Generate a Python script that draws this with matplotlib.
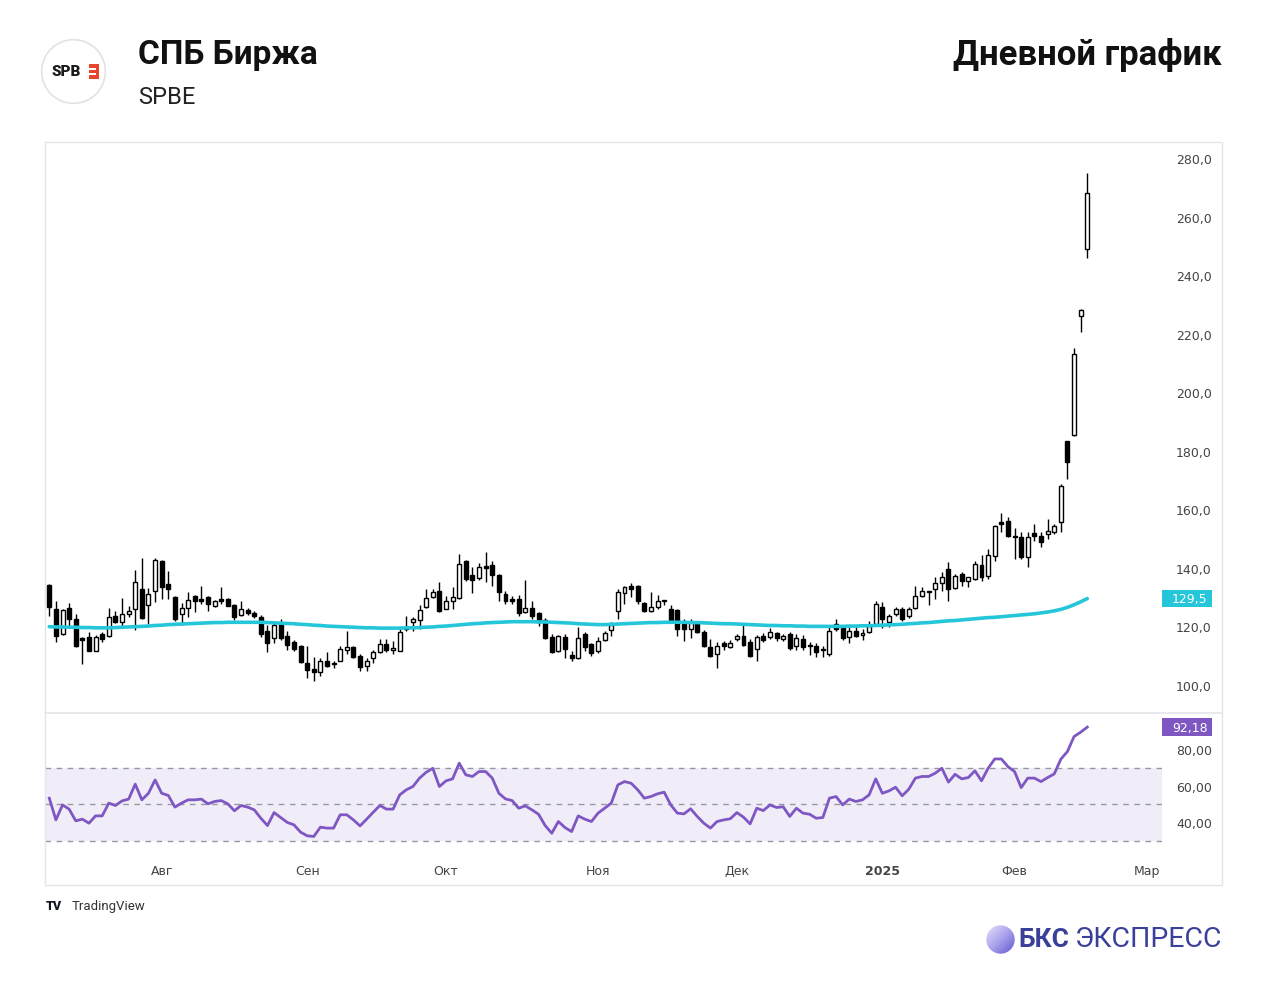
import numpy as np
import matplotlib
matplotlib.use("Agg")
import matplotlib.pyplot as plt
from matplotlib.patches import Rectangle, Circle
from matplotlib.lines import Line2D
import matplotlib.transforms as mtransforms

# Daily candles (bar index 0 = first visible day)
opens = [134.0, 126.0, 117.4, 126.3, 122.5, 116.0, 116.3, 111.7, 117.5, 116.6,
         123.5, 121.4, 124.2, 125.8, 132.8, 127.3, 132.2, 142.5, 134.5, 130.0,
         124.2, 126.3, 130.3, 129.4, 130.0, 127.1, 129.4, 129.4, 127.3, 123.9,
         125.6, 124.6, 123.1, 118.5, 116.1, 120.8, 116.8, 114.6, 113.2, 107.5,
         105.5, 104.5, 108.3, 107.0, 108.3, 112.0, 112.9, 110.0, 106.6, 109.1,
         111.2, 114.0, 112.0, 111.7, 119.7, 121.5, 122.2, 126.5, 130.0, 132.2,
         126.0, 128.8, 129.6, 142.5, 137.6, 136.5, 140.7, 141.0, 137.6, 131.1,
         129.2, 129.4, 125.0, 126.2, 124.6, 122.3, 116.3, 111.5, 116.3, 110.2,
         109.1, 117.4, 114.0, 111.7, 115.4, 118.9, 125.4, 131.4, 133.7, 133.9,
         128.0, 125.4, 126.5, 128.6, 125.8, 125.6, 120.8, 119.1, 121.4, 118.0,
         112.9, 110.6, 114.3, 112.9, 115.7, 116.8, 114.8, 112.3, 116.8, 116.3,
         117.8, 115.7, 117.4, 113.4, 115.7, 113.7, 113.4, 111.8, 110.6, 120.8,
         119.7, 116.3, 118.5, 117.2, 118.0, 120.8, 126.5, 121.4, 124.2, 125.8,
         123.5, 126.2, 130.5, 131.6, 132.6, 134.8, 139.6, 133.0, 137.9, 135.6,
         136.2, 141.0, 137.3, 144.2, 155.6, 156.1, 151.0, 150.4, 143.6, 151.9,
         151.0, 151.6, 152.4, 155.6, 183.4, 185.4, 226.1, 249.1]
highs = [134.5, 128.8, 126.0, 128.0, 124.2, 116.5, 118.0, 117.0, 118.0, 126.2,
         125.4, 129.7, 127.1, 139.3, 143.3, 133.0, 143.3, 142.8, 139.0, 130.3,
         127.9, 131.6, 130.8, 133.9, 130.5, 129.0, 133.4, 129.6, 127.5, 128.8,
         126.3, 125.4, 124.0, 120.3, 121.5, 122.5, 118.5, 115.3, 113.5, 113.2,
         109.5, 109.1, 111.2, 108.3, 113.2, 118.5, 113.2, 110.6, 109.1, 112.0,
         115.7, 115.7, 115.0, 119.1, 123.5, 123.1, 127.3, 132.6, 132.6, 135.1,
         130.5, 133.4, 144.7, 142.8, 140.3, 141.5, 145.3, 142.5, 137.8, 132.2,
         130.5, 130.7, 136.0, 128.8, 125.0, 122.8, 117.4, 117.0, 117.4, 111.7,
         119.7, 118.0, 114.3, 116.3, 118.5, 121.4, 132.8, 133.9, 134.7, 134.2,
         128.3, 131.6, 130.7, 129.0, 127.4, 125.8, 122.5, 122.5, 121.7, 118.9,
         115.7, 114.6, 115.0, 115.3, 117.4, 120.3, 115.7, 117.0, 117.7, 119.4,
         118.0, 117.4, 118.0, 117.4, 117.0, 114.6, 114.3, 113.4, 119.7, 122.5,
         120.5, 119.7, 119.7, 119.0, 121.7, 128.5, 128.2, 124.2, 126.5, 126.5,
         126.5, 133.9, 133.4, 132.2, 136.8, 138.5, 142.1, 138.0, 138.5, 137.0,
         142.5, 144.4, 146.4, 154.8, 158.7, 157.3, 153.5, 152.1, 152.1, 155.0,
         152.1, 156.7, 155.0, 168.5, 183.5, 215.0, 228.3, 274.9]
lows = [123.7, 114.6, 117.0, 119.7, 112.9, 107.2, 111.5, 111.7, 114.6, 116.3,
        121.0, 119.7, 123.1, 118.9, 122.5, 120.8, 128.2, 129.4, 129.4, 122.0,
        120.3, 123.1, 124.8, 127.7, 125.4, 126.5, 127.7, 126.8, 122.2, 123.7,
        124.0, 122.8, 116.3, 111.4, 114.3, 115.5, 112.0, 111.5, 107.5, 102.3,
        101.5, 103.2, 106.0, 105.7, 108.0, 110.6, 109.2, 104.9, 104.9, 107.5,
        111.0, 111.2, 110.6, 111.5, 118.5, 118.5, 119.1, 126.3, 129.7, 124.8,
        125.8, 126.0, 129.4, 135.6, 131.4, 136.0, 135.1, 133.9, 128.8, 127.7,
        127.7, 123.7, 124.6, 122.5, 120.0, 115.7, 110.9, 111.2, 109.1, 108.0,
        108.8, 111.5, 110.0, 110.9, 115.0, 116.8, 122.5, 127.7, 130.0, 127.7,
        125.0, 125.0, 126.0, 127.3, 121.0, 116.6, 115.1, 115.9, 117.7, 113.0,
        109.7, 105.7, 112.0, 112.6, 115.0, 113.4, 109.5, 108.3, 114.6, 115.7,
        115.1, 115.0, 112.0, 112.0, 112.0, 110.2, 109.5, 109.7, 110.0, 118.5,
        115.5, 114.3, 116.5, 115.5, 117.7, 120.5, 119.4, 119.7, 123.5, 122.0,
        123.0, 126.0, 130.0, 127.3, 129.4, 132.2, 128.5, 132.8, 133.9, 133.4,
        136.0, 135.6, 136.2, 142.5, 152.4, 150.4, 143.0, 143.0, 140.3, 149.3,
        147.0, 149.9, 151.6, 152.1, 170.4, 185.0, 220.7, 245.7]
closes = [126.5, 116.8, 125.6, 122.5, 113.4, 115.5, 111.7, 116.3, 115.8, 123.1,
          121.6, 124.2, 125.4, 135.1, 122.9, 131.1, 142.8, 133.4, 132.8, 122.5,
          126.3, 129.0, 128.8, 128.8, 127.7, 128.5, 128.5, 127.1, 123.1, 126.0,
          124.6, 123.5, 117.4, 114.3, 120.5, 116.1, 113.7, 112.3, 107.8, 105.2,
          104.5, 108.1, 106.6, 107.4, 112.3, 112.9, 109.5, 106.0, 108.3, 111.2,
          114.0, 112.0, 112.5, 118.0, 119.0, 122.5, 125.6, 129.6, 131.9, 125.1,
          128.8, 130.0, 141.3, 136.2, 136.0, 140.3, 139.9, 137.6, 131.9, 128.8,
          128.6, 124.6, 126.3, 123.7, 121.4, 115.9, 111.2, 116.6, 112.3, 109.1,
          115.9, 112.9, 110.9, 115.1, 117.7, 120.5, 131.6, 133.4, 132.6, 128.8,
          125.4, 126.5, 128.8, 128.9, 122.0, 119.1, 119.1, 121.6, 118.0, 113.4,
          110.0, 113.4, 113.2, 114.3, 116.8, 113.7, 110.0, 116.5, 115.5, 118.0,
          115.9, 116.8, 112.6, 115.9, 112.9, 113.2, 111.4, 112.2, 118.5, 119.1,
          115.9, 118.5, 116.8, 117.6, 120.0, 127.7, 122.5, 123.7, 125.8, 122.5,
          126.0, 130.5, 132.2, 132.0, 134.7, 137.0, 132.8, 137.3, 135.6, 136.8,
          141.3, 136.8, 144.4, 154.4, 155.0, 151.0, 150.4, 143.6, 150.4, 150.8,
          148.9, 152.7, 154.4, 167.8, 176.0, 213.0, 228.1, 268.2]

# moving average (cyan line)
ma = [119.9, 119.8, 119.8, 119.7, 119.7, 119.6, 119.6, 119.5, 119.5, 119.5,
      119.6, 119.7, 119.8, 119.9, 120.0, 120.1, 120.3, 120.4, 120.6, 120.7,
      120.8, 120.9, 121.0, 121.1, 121.2, 121.3, 121.3, 121.4, 121.4, 121.4,
      121.4, 121.4, 121.4, 121.3, 121.2, 121.1, 121.0, 120.9, 120.7, 120.6,
      120.4, 120.3, 120.1, 120.0, 119.9, 119.8, 119.7, 119.6, 119.5, 119.5,
      119.4, 119.4, 119.4, 119.4, 119.5, 119.5, 119.6, 119.7, 119.8, 120.0,
      120.1, 120.3, 120.5, 120.7, 120.9, 121.0, 121.2, 121.3, 121.4, 121.5,
      121.6, 121.6, 121.6, 121.6, 121.5, 121.5, 121.4, 121.3, 121.2, 121.1,
      120.9, 120.8, 120.7, 120.6, 120.6, 120.7, 120.8, 120.9, 121.0, 121.1,
      121.2, 121.3, 121.3, 121.4, 121.4, 121.4, 121.4, 121.3, 121.3, 121.2,
      121.1, 121.0, 120.9, 120.9, 120.8, 120.7, 120.6, 120.5, 120.4, 120.3,
      120.3, 120.2, 120.2, 120.1, 120.1, 120.0, 120.0, 120.0, 120.0, 120.0,
      120.0, 120.1, 120.1, 120.2, 120.2, 120.3, 120.4, 120.5, 120.6, 120.7,
      120.9, 121.0, 121.2, 121.3, 121.5, 121.7, 121.9, 122.0, 122.2, 122.4,
      122.6, 122.8, 123.0, 123.1, 123.3, 123.5, 123.7, 123.9, 124.1, 124.3,
      124.6, 124.9, 125.3, 125.8, 126.5, 127.4, 128.4, 129.5]

rsi = [53.2, 41.3, 49.5, 47.2, 40.8, 41.7, 39.5, 43.5, 43.5, 50.5,
       49.2, 51.7, 52.7, 60.9, 52.3, 55.9, 63.2, 55.9, 54.7, 48.3,
       50.5, 52.3, 52.3, 52.7, 50.1, 51.4, 51.9, 50.1, 46.3, 49.2,
       48.3, 46.8, 42.2, 38.2, 45.3, 42.6, 39.9, 38.6, 34.6, 32.6,
       32.2, 37.3, 36.8, 36.8, 44.1, 44.1, 41.3, 38.0, 41.7, 45.5,
       49.2, 47.2, 47.2, 55.0, 57.8, 59.6, 64.2, 67.4, 69.6, 59.6,
       62.7, 63.8, 72.4, 66.0, 65.1, 67.8, 67.8, 64.2, 55.9, 52.8,
       51.9, 47.7, 49.0, 46.8, 44.4, 38.2, 34.0, 40.4, 37.1, 34.9,
       43.5, 41.7, 40.4, 45.0, 47.7, 50.5, 60.5, 62.3, 61.4, 57.8,
       53.2, 54.1, 55.6, 56.5, 49.5, 45.0, 44.6, 47.4, 43.2, 39.5,
       36.8, 40.4, 41.3, 41.9, 45.3, 42.8, 39.1, 47.7, 46.4, 49.5,
       48.1, 48.5, 43.2, 47.7, 45.0, 44.4, 42.2, 42.6, 53.2, 54.1,
       49.5, 52.7, 51.4, 52.3, 55.0, 63.8, 55.9, 57.2, 59.2, 54.5,
       58.1, 64.2, 65.1, 65.1, 66.9, 69.6, 62.0, 66.3, 63.8, 64.5,
       68.2, 62.7, 69.6, 74.7, 74.7, 70.5, 67.8, 59.0, 64.2, 64.2,
       62.3, 64.5, 66.5, 74.6, 78.8, 87.0, 89.4, 92.18]

month_bars = [17, 39, 60, 83, 104, 126, 146, 166]
month_labels = ["Авг", "Сен", "Окт", "Ноя", "Дек", "2025", "Фев", "Мар"]
price_ticks = [100, 120, 140, 160, 180, 200, 220, 240, 260, 280]
rsi_ticks = [40, 60, 80]

W, H = 1280, 1004


def box(x0, y0, x1, y1):
    # pixel box (top-left origin) -> figure fraction rect
    return [x0 / W, 1 - y1 / H, (x1 - x0) / W, (y1 - y0) / H]


plt.rcParams['font.family'] = ['DejaVu Sans']
fig = plt.figure(figsize=(12.8, 10.04), dpi=100)
fig.patch.set_facecolor('white')

# chart frame and pane separator
fig.add_artist(Rectangle((45 / W, 1 - 886 / H), (1222 - 45) / W, (886 - 143) / H,
                         transform=fig.transFigure, fill=False,
                         edgecolor='#e3e5ea', lw=1))
fig.add_artist(Line2D([45 / W, 1222 / W], [1 - 714 / H, 1 - 714 / H],
                      transform=fig.transFigure, color='#e3e5ea', lw=1.2))

x = np.arange(len(closes))
xlim = (-0.65, 168.3)
plot_w = 1162 - 45

# ---- price pane ----
ax = fig.add_axes(box(45, 143, 1162, 714))
ax.set_xlim(*xlim)
ax.set_ylim(90.4, 285.5)
o = np.array(opens)
c = np.array(closes)
up = c >= o
ax.vlines(x, lows, highs, color='black', lw=1, zorder=2)
bottoms = np.minimum(o, c)
heights = np.maximum(np.abs(c - o), 0.35)
ax.bar(x[up], heights[up], bottom=bottoms[up], width=0.6,
       facecolor='white', edgecolor='black', lw=1, zorder=3)
ax.bar(x[~up], heights[~up], bottom=bottoms[~up], width=0.6,
       facecolor='black', edgecolor='black', lw=1, zorder=3)
ax.plot(x, ma, color='#26c6da', lw=2.6, zorder=4, solid_capstyle='round')

ax.yaxis.tick_right()
ax.set_yticks(price_ticks)
ax.set_yticklabels([f"{v:.1f}".replace('.', ',') for v in price_ticks])
ax.tick_params(axis='y', length=0, pad=10, labelsize=9, labelcolor='#444444')
ax.set_xticks([])
for s in ax.spines.values():
    s.set_visible(False)

trans = mtransforms.blended_transform_factory(ax.transAxes, ax.transData)
ax.add_patch(Rectangle((1.0, ma[-1] - 2.9), 50 / plot_w, 5.8, transform=trans,
                       facecolor='#26c6da', edgecolor='none', clip_on=False))
ax.text(1.0 + 10 / plot_w, ma[-1], f"{ma[-1]:.1f}".replace('.', ','), transform=trans,
        color='white', fontsize=9, va='center', ha='left')

# ---- RSI pane ----
ax2 = fig.add_axes(box(45, 714, 1162, 855))
ax2.set_xlim(*xlim)
ax2.set_ylim(22.6, 99.9)
ax2.axhspan(30, 70, color='#7e57c2', alpha=0.1, lw=0)
for lvl in (30, 50, 70):
    ax2.axhline(lvl, color='#9598a1', lw=1, ls=(0, (4, 4)))
ax2.plot(x, rsi, color='#7e57c2', lw=2, zorder=3)

ax2.yaxis.tick_right()
ax2.set_yticks(rsi_ticks)
ax2.set_yticklabels([f"{v:.2f}".replace('.', ',') for v in rsi_ticks])
ax2.tick_params(axis='y', length=0, pad=10, labelsize=9, labelcolor='#444444')
ax2.set_xticks(month_bars)
ax2.set_xticklabels(month_labels)
ax2.tick_params(axis='x', length=0, pad=7, labelsize=9, labelcolor='#444444')
for lab in ax2.get_xticklabels():
    if lab.get_text() == "2025":
        lab.set_fontweight('bold')
for s in ax2.spines.values():
    s.set_visible(False)

trans2 = mtransforms.blended_transform_factory(ax2.transAxes, ax2.transData)
ax2.add_patch(Rectangle((1.0, rsi[-1] - 4.9), 50 / plot_w, 9.8, transform=trans2,
                        facecolor='#7e57c2', edgecolor='none', clip_on=False))
ax2.text(1.0 + 10 / plot_w, rsi[-1], f"{rsi[-1]:.2f}".replace('.', ','), transform=trans2,
         color='white', fontsize=9, va='center', ha='left')

# ---- header ----
axl = fig.add_axes(box(41, 40, 106, 105))
axl.set_xlim(-1.02, 1.02)
axl.set_ylim(-1.02, 1.02)
axl.axis('off')
axl.add_patch(Circle((0, 0), 1.0, facecolor='white', edgecolor='#e2e2e2', lw=1.2))
axl.text(-0.22, 0, "SPB", fontsize=11, fontweight='black', ha='center',
         va='center', color='#1a1a1a', family=['Roboto', 'DejaVu Sans'])
axl.add_patch(Rectangle((0.5, -0.22), 0.3, 0.44, facecolor='#e8452c', edgecolor='none'))
for yy in (-0.08, 0.07):
    axl.add_patch(Rectangle((0.5, yy - 0.025), 0.22, 0.05, facecolor='white', edgecolor='none'))

hdr = ['Roboto', 'DejaVu Sans']
fig.text(138 / W, 1 - 55 / H, "СПБ Биржа", fontsize=24, fontweight='bold',
         va='center', ha='left', color='#111111', family=hdr)
fig.text(138 / W, 1 - 97 / H, "SPBE", fontsize=17, va='center', ha='left',
         color='#222222', family=hdr)
fig.text(1222 / W, 1 - 55 / H, "Дневной график", fontsize=25, fontweight='bold',
         va='center', ha='right', color='#111111', family=hdr)

# ---- footer ----
fig.text(46 / W, 1 - 907 / H, "TV", fontsize=9, fontweight='black', va='center',
         ha='left', color='#131722', family=hdr)
fig.text(72 / W, 1 - 907 / H, "TradingView", fontsize=9.5, va='center', ha='left',
         color='#333333', family=hdr)

axb = fig.add_axes(box(986, 926, 1015, 955))
axb.axis('off')
gx, gy = np.meshgrid(np.linspace(-1, 1, 60), np.linspace(-1, 1, 60))
grad = (gx - gy) / 2
img = axb.imshow(grad, cmap=matplotlib.colors.LinearSegmentedColormap.from_list(
    'bks', ['#e6e3fa', '#a9a2ec', '#5f55cf']), extent=(-1, 1, -1, 1), origin='lower')
clip = Circle((0, 0), 0.98, transform=axb.transData)
img.set_clip_path(clip)
axb.set_xlim(-1, 1)
axb.set_ylim(-1, 1)

fig.text(1018 / W, 1 - 940 / H, "БКС", fontsize=19, fontweight='bold', va='center',
         ha='left', color='#3a3f9a', family=hdr)
fig.text(1222 / W, 1 - 940 / H, "ЭКСПРЕСС", fontsize=20.5, va='center', ha='right',
         color='#3a3f9a', family=hdr)

fig.savefig("out.png", dpi=100)
